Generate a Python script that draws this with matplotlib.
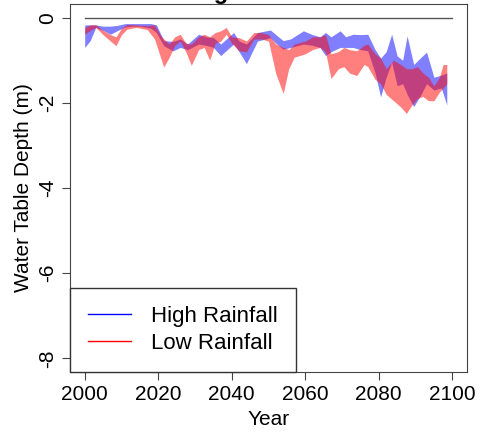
import matplotlib
matplotlib.use("Agg")
import matplotlib.pyplot as plt
from matplotlib.lines import Line2D

plt.rcParams['font.family'] = ['Liberation Sans', 'DejaVu Sans']

# high rainfall band (year, top, bottom)
high_years = [2000, 2001.5, 2003, 2005, 2007, 2009, 2011, 2013, 2015, 2018, 2019.5,
              2021.5, 2024, 2026, 2028, 2031, 2033, 2035, 2037, 2040.5, 2042, 2044,
              2047, 2050.5, 2052, 2054, 2056, 2059.5, 2062, 2064, 2065.5, 2067,
              2069.5, 2071, 2073, 2075, 2077, 2079, 2080.5, 2082, 2083.5, 2085,
              2086.5, 2087.7, 2089.5, 2091.5, 2093, 2095, 2097, 2098.5]
high_top = [-0.17, -0.17, -0.17, -0.20, -0.20, -0.18, -0.14, -0.14, -0.14, -0.14, -0.17,
            -0.54, -0.56, -0.50, -0.62, -0.39, -0.45, -0.47, -0.62, -0.35, -0.55, -0.62,
            -0.35, -0.29, -0.40, -0.54, -0.50, -0.31, -0.40, -0.45, -0.35, -0.45,
            -0.31, -0.45, -0.39, -0.40, -0.39, -0.75, -0.95, -0.80, -0.39, -0.90,
            -1.00, -0.43, -1.10, -0.93, -0.81, -1.40, -1.35, -1.30]
high_bot = [-0.70, -0.54, -0.23, -0.30, -0.39, -0.30, -0.22, -0.20, -0.20, -0.25, -0.35,
            -0.66, -0.78, -0.70, -0.75, -0.62, -0.65, -0.70, -0.89, -0.62, -0.80, -1.08,
            -0.55, -0.47, -0.60, -0.74, -0.70, -0.62, -0.65, -0.70, -0.89, -0.80,
            -0.70, -0.70, -0.70, -0.75, -0.78, -1.30, -1.86, -1.40, -1.05, -1.60,
            -1.55, -1.80, -2.09, -1.80, -1.55, -1.70, -1.65, -2.05]

# low rainfall band
low_years = [2000, 2001.5, 2003, 2005, 2007, 2008.5, 2010, 2011.5, 2014, 2017, 2019,
             2020.5, 2021.5, 2023, 2024.5, 2026, 2027.5, 2029, 2031, 2032.5, 2034,
             2035.5, 2037, 2038.5, 2040, 2042, 2044, 2046, 2048, 2050, 2052, 2054,
             2055.5, 2057, 2060, 2062, 2064, 2065.5, 2067, 2069, 2070.5, 2072, 2074,
             2076, 2077, 2079, 2080.5, 2082, 2084, 2086, 2087.5, 2089, 2090.5, 2092,
             2093.5, 2095, 2096.5, 2097.5, 2098.5]
low_top = [-0.23, -0.17, -0.17, -0.30, -0.40, -0.45, -0.25, -0.16, -0.17, -0.19, -0.17,
           -0.40, -0.50, -0.62, -0.45, -0.39, -0.60, -0.62, -0.45, -0.39, -0.45,
           -0.35, -0.31, -0.23, -0.45, -0.47, -0.55, -0.35, -0.35, -0.40, -0.62, -0.70,
           -0.75, -0.62, -0.55, -0.45, -0.45, -0.40, -0.85, -0.80, -0.70, -0.75, -0.78,
           -0.65, -0.62, -0.85, -0.95, -1.20, -1.00, -1.10, -1.20, -1.20, -1.15, -1.30,
           -1.40, -1.60, -1.40, -1.10, -1.10]
low_bot = [-0.39, -0.30, -0.23, -0.40, -0.55, -0.66, -0.40, -0.27, -0.23, -0.28, -0.50,
           -0.90, -1.16, -0.93, -0.65, -0.55, -0.80, -1.12, -0.75, -0.70, -1.00,
           -0.60, -0.55, -0.39, -0.60, -0.78, -0.80, -0.50, -0.50, -0.55, -1.32, -1.78,
           -1.20, -0.93, -0.85, -0.75, -0.70, -0.80, -1.43, -1.20, -1.15, -1.30, -1.36,
           -1.10, -1.15, -1.45, -1.55, -1.80, -1.95, -2.10, -2.25, -2.05, -1.90, -1.85,
           -1.95, -1.95, -1.75, -1.65, -1.55]

legend_labels = ["High Rainfall", "Low Rainfall"]

fig = plt.figure(figsize=(4.87, 4.32), dpi=100)
ax = fig.add_axes([70 / 487, 60 / 432, 397 / 487, 368 / 432])

ax.fill_between(high_years, high_top, high_bot, color=(0, 0, 1, 0.5), linewidth=0)
ax.fill_between(low_years, low_top, low_bot, color=(1, 0, 0, 0.5), linewidth=0)
ax.plot([2000, 2100], [0, 0], color="#555555", lw=1)

ax.set_xlim(1996, 2104)
ax.set_ylim(-8.32, 0.32)
ax.set_xticks([2000, 2020, 2040, 2060, 2080, 2100])
ax.set_yticks([0, -2, -4, -6, -8])
ax.set_yticklabels(["0", "-2", "-4", "-6", "-8"], rotation=90, va="center")
ax.tick_params(labelsize=15, length=6, color="#444444", pad=3)
for s in ax.spines.values():
    s.set_color("#444444")
ax.set_xlabel("Year", fontsize=15, labelpad=5)
ax.set_ylabel("Water Table Depth (m)", fontsize=15, labelpad=4)

handles = [Line2D([0], [0], color="blue", lw=1), Line2D([0], [0], color="red", lw=1)]
leg = ax.legend(handles, legend_labels, loc="lower left", fontsize=16,
                borderaxespad=0, fancybox=False, framealpha=1,
                edgecolor="#333333", handlelength=1.95, handletextpad=0.9,
                borderpad=0.8, labelspacing=0.3)
leg.get_frame().set_linewidth(1)

fig.text(268 / 487, 1 + 1 / 432, "Rising Water Tables", ha="center", va="baseline",
         fontsize=17, fontweight="bold")

fig.savefig("out.png", dpi=100)
